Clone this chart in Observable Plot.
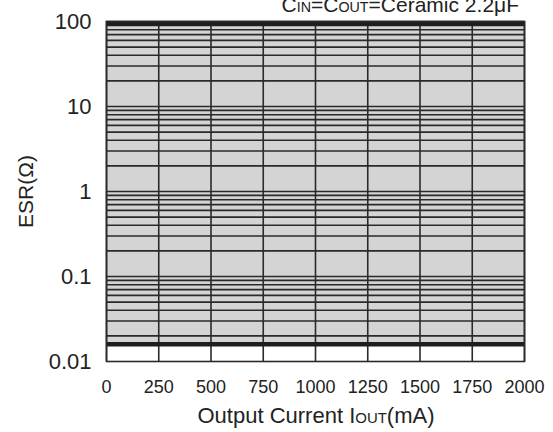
<!DOCTYPE html>
<html>
<head>
<meta charset="utf-8">
<script src="https://cdn.jsdelivr.net/npm/d3@7"></script>
<script src="https://cdn.jsdelivr.net/npm/@observablehq/plot@0.6"></script>
<style>
  html, body { margin: 0; padding: 0; background: white; }
  #chart { width: 553px; height: 432px; overflow: hidden; }
</style>
</head>
<body>
<div id="chart"></div>
<script>
// ---- Data ----
const currentTicks = [0, 250, 500, 750, 1000, 1250, 1500, 1750, 2000];   // mA
const esrTicks = [0.01, 0.1, 1, 10, 100];                                  // Ω
const esrTickLabels = ["0.01", "0.1", "1", "10", "100"];
const esrDecades = [0.01, 0.1, 1, 10];
const esrMultipliers = [1, 2, 3, 4, 5, 6, 7, 8, 9];
const stableCurrent = [0, 2000];        // mA, stable region current range
const stableEsrLow = [0.016];           // Ω, lower ESR boundary of stable region
const stableEsrHigh = [100];            // Ω, upper ESR boundary
const titleParts = [["C", 1], ["IN", 0.68], ["=C", 1], ["OUT", 0.68], ["=Ceramic 2.2μF", 1]];
const xLabelParts = [["Output Current I", 1], ["OUT", 0.68], ["(mA)", 1]];
const yLabel = "ESR(Ω)";

// ---- Derived tables ----
const region = [{x1: stableCurrent[0], x2: stableCurrent[1], y1: stableEsrLow[0], y2: stableEsrHigh[0]}];
const gridEsr = esrDecades.flatMap(d => esrMultipliers.map(m => +(m * d).toPrecision(3)))
  .filter(v => v > stableEsrLow[0]).concat(stableEsrHigh);

const ink = "#2a2a2a";
const font = "'Liberation Sans', Arial, Helvetica, sans-serif";

const plot = Plot.plot({
  width: 553,
  height: 432,
  marginLeft: 106,
  marginRight: 29,
  marginTop: 21,
  marginBottom: 71,
  style: {fontFamily: font, color: "#222", background: "white", overflow: "visible"},
  x: {domain: [0, 2000]},
  y: {type: "log", domain: [0.01, 100]},
  marks: [
    Plot.rect(region, {x1: "x1", x2: "x2", y1: "y1", y2: "y2", fill: "#d4d4d4"}),
    Plot.ruleY(gridEsr, {stroke: ink, strokeWidth: 1.6}),
    Plot.ruleX(currentTicks, {stroke: ink, strokeWidth: 1.6}),
    Plot.ruleY(stableEsrLow, {stroke: "#1e1e1e", strokeWidth: 4.5}),
    Plot.ruleY(stableEsrHigh, {stroke: "#1e1e1e", strokeWidth: 4.5, dy: 2}),
    Plot.frame({stroke: ink, strokeWidth: 1.6}),
    Plot.axisX({ticks: currentTicks, tickSize: 0, tickPadding: 19, fontSize: 18, label: null, tickFormat: d => String(d)}),
    Plot.axisY({ticks: esrTicks, tickSize: 0, tickPadding: 15, fontSize: 22, label: null,
      tickFormat: d => esrTickLabels[esrTicks.findIndex(t => Math.abs(t - d) / t < 1e-6)]}),
    Plot.text([yLabel], {frameAnchor: "left", dx: -80, rotate: -90, fontSize: 21, textAnchor: "middle",
      lineAnchor: "middle", text: d => d, fill: "#222"})
  ]
});

document.getElementById("chart").appendChild(plot);

// Labels with small-caps subscripts, added as real SVG text
const svg = d3.select(plot);
function addLabel(parts, x, y, anchor, size) {
  const t = svg.append("text")
    .attr("x", x).attr("y", y)
    .attr("text-anchor", anchor)
    .attr("font-family", font)
    .attr("font-size", size)
    .attr("fill", "#222");
  parts.forEach(([s, k]) => t.append("tspan").attr("font-size", size * k).text(s));
}
addLabel(titleParts, 519, 12, "end", 21);
addLabel(xLabelParts, 316, 423, "middle", 22);
</script>
</body>
</html>
